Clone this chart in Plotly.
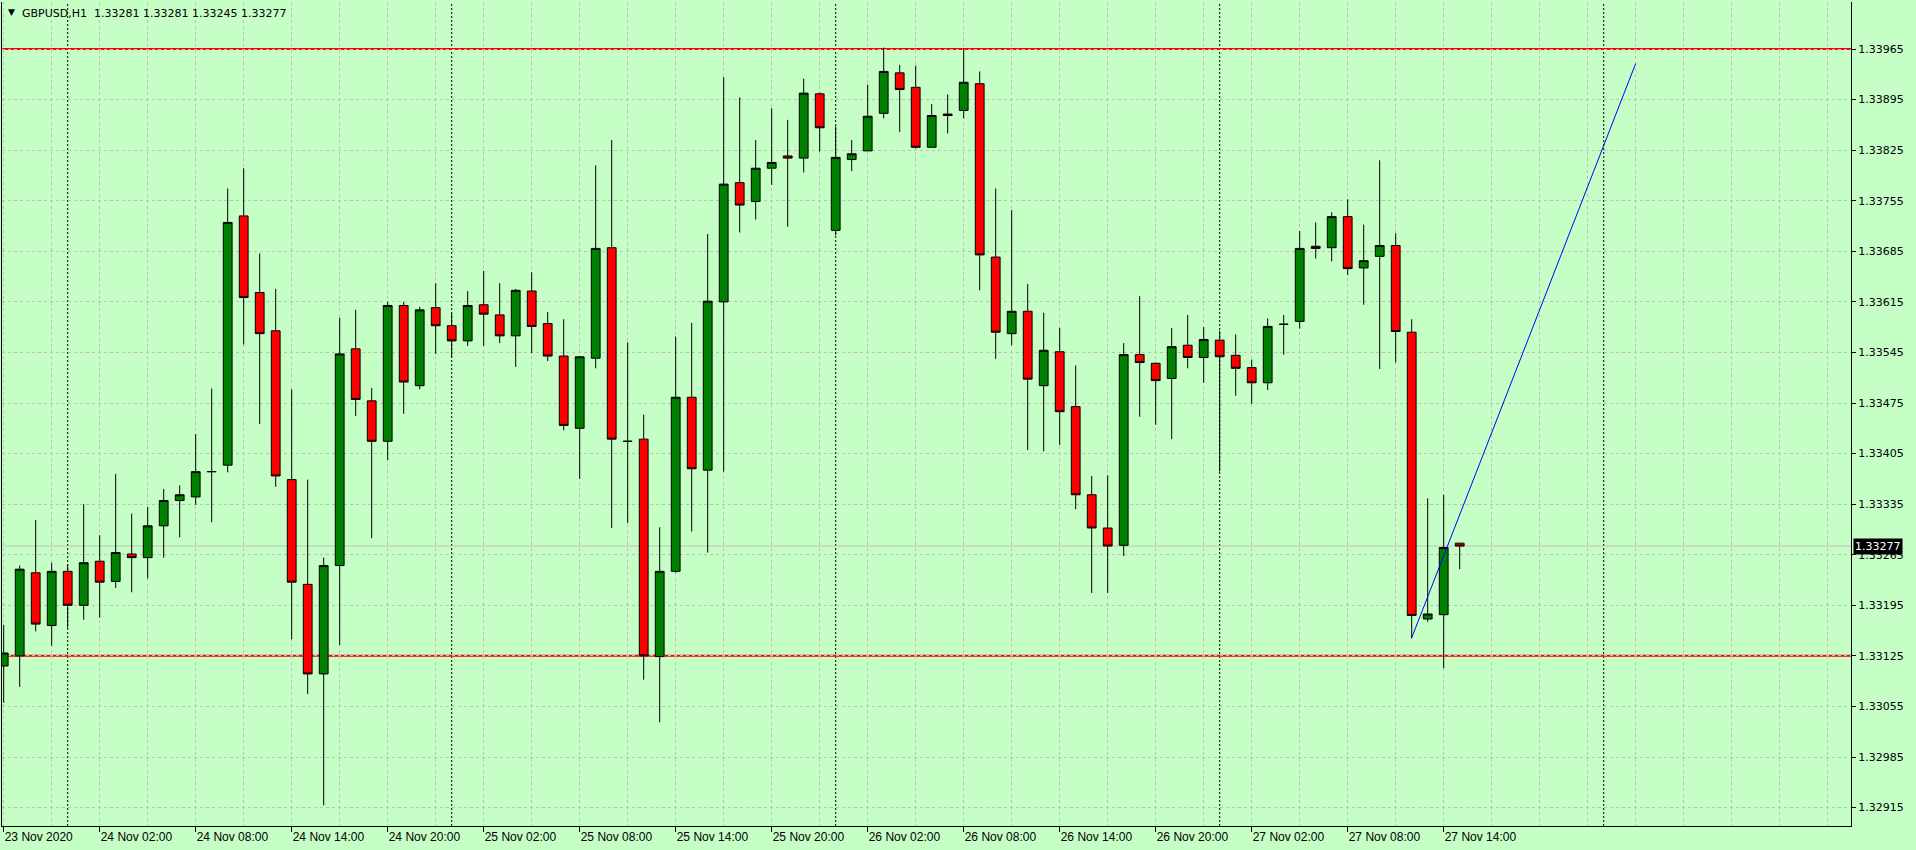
import plotly.graph_objects as go

# ---------------- data (GBPUSD H1, 23 Nov 20:00 .. 27 Nov 15:00) ----------------
bar_index = list(range(92))

opens = [1.33111, 1.33125, 1.33240, 1.33167, 1.33242, 1.33195, 1.33256, 1.33228, 1.33266, 1.33261,
         1.33305, 1.33340, 1.33345, 1.33380, 1.33389, 1.33734, 1.33628, 1.33575, 1.33369, 1.33224,
         1.33100, 1.33250, 1.33550, 1.33478, 1.33422, 1.33610, 1.33499, 1.33607, 1.33582, 1.33561,
         1.33611, 1.33597, 1.33568, 1.33630, 1.33585, 1.33540, 1.33440, 1.33537, 1.33690, 1.33422,
         1.33425, 1.33124, 1.33242, 1.33483, 1.33382, 1.33615, 1.33780, 1.33754, 1.33800, 1.33817,
         1.33814, 1.33903, 1.33714, 1.33812, 1.33824, 1.33876, 1.33932, 1.33912, 1.33829, 1.33873,
         1.33880, 1.33917, 1.33677, 1.33571, 1.33602, 1.33499, 1.33546, 1.33470, 1.33348, 1.33302,
         1.33278, 1.33542, 1.33530, 1.33509, 1.33555, 1.33538, 1.33562, 1.33541, 1.33524, 1.33503,
         1.33584, 1.33588, 1.33692, 1.33690, 1.33733, 1.33662, 1.33678, 1.33693, 1.33573, 1.33176,
         1.33182, 1.33281]

highs = [1.33168, 1.33250, 1.33313, 1.33254, 1.33251, 1.33335, 1.33292, 1.33377, 1.33322, 1.33331,
         1.33356, 1.33361, 1.33432, 1.33495, 1.33772, 1.33800, 1.33682, 1.33633, 1.33494, 1.33369,
         1.33261, 1.33593, 1.33604, 1.33496, 1.33615, 1.33615, 1.33608, 1.33641, 1.33600, 1.33630,
         1.33658, 1.33641, 1.33633, 1.33656, 1.33601, 1.33591, 1.33540, 1.33804, 1.33839, 1.33559,
         1.33459, 1.33303, 1.33567, 1.33586, 1.33709, 1.33926, 1.33898, 1.33839, 1.33883, 1.33867,
         1.33924, 1.33905, 1.33858, 1.33839, 1.33916, 1.33967, 1.33943, 1.33942, 1.33889, 1.33902,
         1.33965, 1.33934, 1.33772, 1.33742, 1.33640, 1.33600, 1.33579, 1.33527, 1.33374, 1.33375,
         1.33558, 1.33623, 1.33531, 1.33579, 1.33597, 1.33580, 1.33575, 1.33570, 1.33535, 1.33592,
         1.33597, 1.33713, 1.33725, 1.33739, 1.33757, 1.33722, 1.33811, 1.33710, 1.33591, 1.33343,
         1.33348, 1.33281]

lows = [1.33060, 1.33082, 1.33159, 1.33139, 1.33164, 1.33175, 1.33178, 1.33219, 1.33213, 1.33232,
        1.33261, 1.33289, 1.33334, 1.33310, 1.33379, 1.33556, 1.33446, 1.33359, 1.33148, 1.33072,
        1.32918, 1.33140, 1.33457, 1.33288, 1.33396, 1.33460, 1.33494, 1.33543, 1.33539, 1.33554,
        1.33554, 1.33558, 1.33525, 1.33544, 1.33533, 1.33437, 1.33370, 1.33523, 1.33302, 1.33309,
        1.33092, 1.33033, 1.33240, 1.33297, 1.33268, 1.33380, 1.33711, 1.33729, 1.33777, 1.33719,
        1.33794, 1.33823, 1.33707, 1.33796, 1.33824, 1.33869, 1.33850, 1.33827, 1.33829, 1.33848,
        1.33869, 1.33631, 1.33536, 1.33555, 1.33410, 1.33408, 1.33417, 1.33328, 1.33212, 1.33212,
        1.33263, 1.33456, 1.33445, 1.33425, 1.33523, 1.33503, 1.33380, 1.33485, 1.33474, 1.33493,
        1.33542, 1.33578, 1.33675, 1.33671, 1.33652, 1.33611, 1.33522, 1.33531, 1.33149, 1.33172,
        1.33108, 1.33245]

closes = [1.33129, 1.33245, 1.33169, 1.33242, 1.33195, 1.33254, 1.33227, 1.33268, 1.33261, 1.33305,
          1.33340, 1.33348, 1.33380, 1.33380, 1.33725, 1.33621, 1.33571, 1.33374, 1.33227, 1.33100,
          1.33250, 1.33543, 1.33480, 1.33422, 1.33610, 1.33504, 1.33604, 1.33582, 1.33561, 1.33610,
          1.33598, 1.33568, 1.33631, 1.33581, 1.33540, 1.33444, 1.33539, 1.33689, 1.33425, 1.33422,
          1.33125, 1.33242, 1.33483, 1.33384, 1.33616, 1.33778, 1.33749, 1.33800, 1.33808, 1.33814,
          1.33904, 1.33856, 1.33815, 1.33820, 1.33872, 1.33934, 1.33909, 1.33829, 1.33873, 1.33875,
          1.33919, 1.33680, 1.33573, 1.33602, 1.33508, 1.33548, 1.33463, 1.33348, 1.33302, 1.33277,
          1.33542, 1.33531, 1.33506, 1.33553, 1.33538, 1.33563, 1.33539, 1.33523, 1.33503, 1.33581,
          1.33584, 1.33689, 1.33689, 1.33733, 1.33661, 1.33672, 1.33693, 1.33574, 1.33181, 1.33183,
          1.33275, 1.33277]

x_tick_index = [0, 6, 12, 18, 24, 30, 36, 42, 48, 54, 60, 66, 72, 78, 84, 90]
x_tick_labels = ["23 Nov 2020", "24 Nov 02:00", "24 Nov 08:00", "24 Nov 14:00", "24 Nov 20:00",
                 "25 Nov 02:00", "25 Nov 08:00", "25 Nov 14:00", "25 Nov 20:00", "26 Nov 02:00",
                 "26 Nov 08:00", "26 Nov 14:00", "26 Nov 20:00", "27 Nov 02:00", "27 Nov 08:00",
                 "27 Nov 14:00"]

price_ticks = [1.32915, 1.32985, 1.33055, 1.33125, 1.33195, 1.33265, 1.33335, 1.33405,
               1.33475, 1.33545, 1.33615, 1.33685, 1.33755, 1.33825, 1.33895, 1.33965]
price_tick_labels = ["1.32915", "1.32985", "1.33055", "1.33125", "1.33195", "1.33265", "1.33335",
                     "1.33405", "1.33475", "1.33545", "1.33615", "1.33685", "1.33755", "1.33825",
                     "1.33895", "1.33965"]

resistance_level = 1.33965
support_level = 1.33125
last_price = 1.33277
trend_x = [88, 102]
trend_y = [1.33150, 1.33945]
day_separator_index = [4, 28, 52, 76, 100]
header_text = "GBPUSD,H1\u00a0\u00a01.33281 1.33281 1.33245 1.33277"

# ---------------- styling ----------------
BG = "#C6FFC6"
GRID = "#C4BAC4"

fig = go.Figure()

fig.add_trace(go.Candlestick(
    x=bar_index, open=opens, high=highs, low=lows, close=closes,
    increasing=dict(fillcolor="#008000", line=dict(color="#000000", width=1)),
    decreasing=dict(fillcolor="#FF0000", line=dict(color="#000000", width=1)),
    whiskerwidth=0, hoverinfo="skip", showlegend=False,
))

fig.add_trace(go.Scatter(
    x=trend_x, y=trend_y, mode="lines",
    line=dict(color="#0000FF", width=1), hoverinfo="skip", showlegend=False,
))

shapes = []
for xi in day_separator_index:
    shapes.append(dict(type="line", xref="x", yref="paper", x0=xi, x1=xi, y0=0, y1=1,
                       line=dict(color="#000000", width=1, dash="2px,2px"), layer="between"))
shapes.append(dict(type="line", xref="paper", yref="y", x0=0, x1=1, y0=last_price, y1=last_price,
                   line=dict(color="#C0C0C0", width=1), layer="between"))
for lvl in (resistance_level, support_level):
    shapes.append(dict(type="line", xref="paper", yref="y", x0=0, x1=1, y0=lvl, y1=lvl,
                       line=dict(color="#FF0000", width=2), layer="between"))

annotations = [
    dict(xref="paper", yref="paper", x=(6 - 2) / 1849, y=1 - (12 - 2) / 824, text="▼",
         showarrow=False, xanchor="left", yanchor="middle",
         font=dict(family="DejaVu Sans", size=9, color="#000000")),
    dict(xref="paper", yref="paper", x=(20 - 2) / 1849, y=1 - (13 - 2) / 824, text=header_text,
         showarrow=False, xanchor="left", yanchor="middle",
         font=dict(family="DejaVu Sans", size=11, color="#000000")),
    dict(xref="paper", yref="y", x=1.0012, y=last_price, text="1.33277",
         showarrow=False, xanchor="left", yanchor="middle", bgcolor="#000000",
         borderpad=1, font=dict(family="DejaVu Sans", size=11, color="#FFFFFF")),
]

fig.update_layout(
    width=1916, height=850,
    margin=dict(l=2, r=65, t=2, b=24, autoexpand=False),
    paper_bgcolor=BG, plot_bgcolor=BG,
    boxgap=0.45, boxgroupgap=0,
    showlegend=False,
    shapes=shapes, annotations=annotations,
    xaxis=dict(
        range=[-0.10625, 115.456], rangeslider=dict(visible=False),
        tickmode="array", tickvals=x_tick_index, ticktext=x_tick_labels,
        ticks="outside", ticklen=5, tickcolor="#000000", ticklabelposition="outside right",
        tickfont=dict(family="Liberation Sans", size=12, color="#000000"),
        showline=True, linecolor="#000000", linewidth=1,
        showgrid=True, gridcolor=GRID, griddash="3px,3px", gridwidth=1,
        minor=dict(tickmode="linear", tick0=0, dtick=3, showgrid=True, gridcolor=GRID,
                   griddash="3px,3px", gridwidth=1, ticks=""),
        zeroline=False, fixedrange=True, automargin=False,
    ),
    yaxis=dict(
        side="right", range=[1.328895, 1.340301],
        tickmode="array", tickvals=price_ticks, ticktext=price_tick_labels,
        ticks="outside", ticklen=4, tickcolor="#000000",
        tickfont=dict(family="DejaVu Sans", size=11, color="#000000"),
        showline=True, linecolor="#000000", linewidth=1, mirror=True,
        showgrid=True, gridcolor=GRID, griddash="3px,3px", gridwidth=1,
        zeroline=False, fixedrange=True, automargin=False,
    ),
)

fig.write_html(
    "out.html",
    config={"displayModeBar": False},
    post_script="document.body.style.margin='0';document.body.style.overflow='hidden';",
)
